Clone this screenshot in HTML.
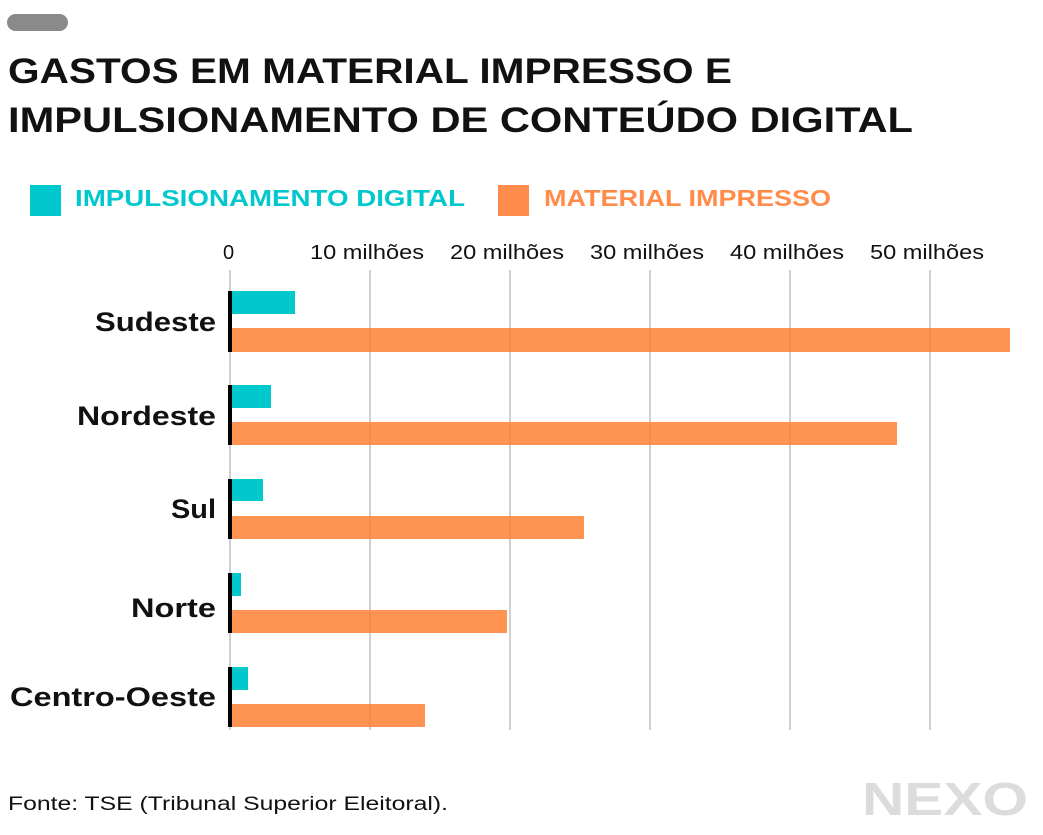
<!DOCTYPE html>
<html><head><meta charset="utf-8"><style>
html,body{margin:0;padding:0;background:#fff;}
svg{display:block;font-family:"Liberation Sans",sans-serif;}
</style></head><body>
<svg width="1043" height="835" viewBox="0 0 1043 835" xmlns="http://www.w3.org/2000/svg">
<rect width="1043" height="835" fill="#fff"/>
<rect x="7" y="14" width="61" height="17" rx="8.5" fill="#8a8a8a"/>
<text x="8" y="83" font-size="35" font-weight="bold" fill="#111" textLength="724" lengthAdjust="spacingAndGlyphs">GASTOS EM MATERIAL IMPRESSO E</text>
<text x="8" y="132" font-size="35" font-weight="bold" fill="#111" textLength="905" lengthAdjust="spacingAndGlyphs">IMPULSIONAMENTO DE CONTEÚDO DIGITAL</text>
<rect x="30" y="185" width="31" height="31" fill="#00c8cc"/>
<text x="75" y="206" font-size="23" font-weight="bold" fill="#00c8cc" textLength="390" lengthAdjust="spacingAndGlyphs">IMPULSIONAMENTO DIGITAL</text>
<rect x="498" y="185" width="31" height="31" fill="#ff8c4a"/>
<text x="544" y="206" font-size="23" font-weight="bold" fill="#ff8c4a" textLength="287" lengthAdjust="spacingAndGlyphs">MATERIAL IMPRESSO</text>
<g font-size="20" fill="#111">
<text x="223" y="259">0</text>
<text x="310" y="259" textLength="114" lengthAdjust="spacingAndGlyphs">10 milhões</text>
<text x="450" y="259" textLength="114" lengthAdjust="spacingAndGlyphs">20 milhões</text>
<text x="590" y="259" textLength="114" lengthAdjust="spacingAndGlyphs">30 milhões</text>
<text x="730" y="259" textLength="114" lengthAdjust="spacingAndGlyphs">40 milhões</text>
<text x="870" y="259" textLength="114" lengthAdjust="spacingAndGlyphs">50 milhões</text>
</g>
<g stroke="#d0d0d0" stroke-width="2">
<line x1="230" y1="270" x2="230" y2="730"/>
<line x1="370" y1="270" x2="370" y2="730"/>
<line x1="510" y1="270" x2="510" y2="730"/>
<line x1="650" y1="270" x2="650" y2="730"/>
<line x1="790" y1="270" x2="790" y2="730"/>
<line x1="930" y1="270" x2="930" y2="730"/>
</g>
<g fill="#00c8cc">
<rect x="231" y="291" width="64" height="23"/>
<rect x="231" y="385" width="40" height="23"/>
<rect x="231" y="479" width="32" height="22"/>
<rect x="231" y="573" width="10" height="23"/>
<rect x="231" y="667" width="17" height="23"/>
</g>
<g fill="#ff8033" fill-opacity="0.85">
<rect x="231" y="328" width="779" height="24"/>
<rect x="231" y="422" width="666" height="23"/>
<rect x="231" y="516" width="353" height="23"/>
<rect x="231" y="610" width="276" height="23"/>
<rect x="231" y="704" width="194" height="23"/>
</g>
<g fill="#000">
<rect x="228" y="291" width="4" height="61"/>
<rect x="228" y="385" width="4" height="60"/>
<rect x="228" y="479" width="4" height="60"/>
<rect x="228" y="573" width="4" height="60"/>
<rect x="228" y="667" width="4" height="60"/>
</g>
<g font-size="27" font-weight="bold" fill="#111">
<text x="95" y="331" textLength="121" lengthAdjust="spacingAndGlyphs">Sudeste</text>
<text x="77" y="425" textLength="139" lengthAdjust="spacingAndGlyphs">Nordeste</text>
<text x="171" y="518" textLength="45" lengthAdjust="spacingAndGlyphs">Sul</text>
<text x="131" y="617" textLength="85" lengthAdjust="spacingAndGlyphs">Norte</text>
<text x="10" y="706" textLength="206" lengthAdjust="spacingAndGlyphs">Centro-Oeste</text>
</g>
<text x="8" y="810" font-size="19" fill="#111" textLength="440" lengthAdjust="spacingAndGlyphs">Fonte: TSE (Tribunal Superior Eleitoral).</text>
<text x="862" y="815" font-size="46" font-weight="bold" fill="#dcdcdc" textLength="166" lengthAdjust="spacingAndGlyphs">NEXO</text>
</svg>
</body></html>
